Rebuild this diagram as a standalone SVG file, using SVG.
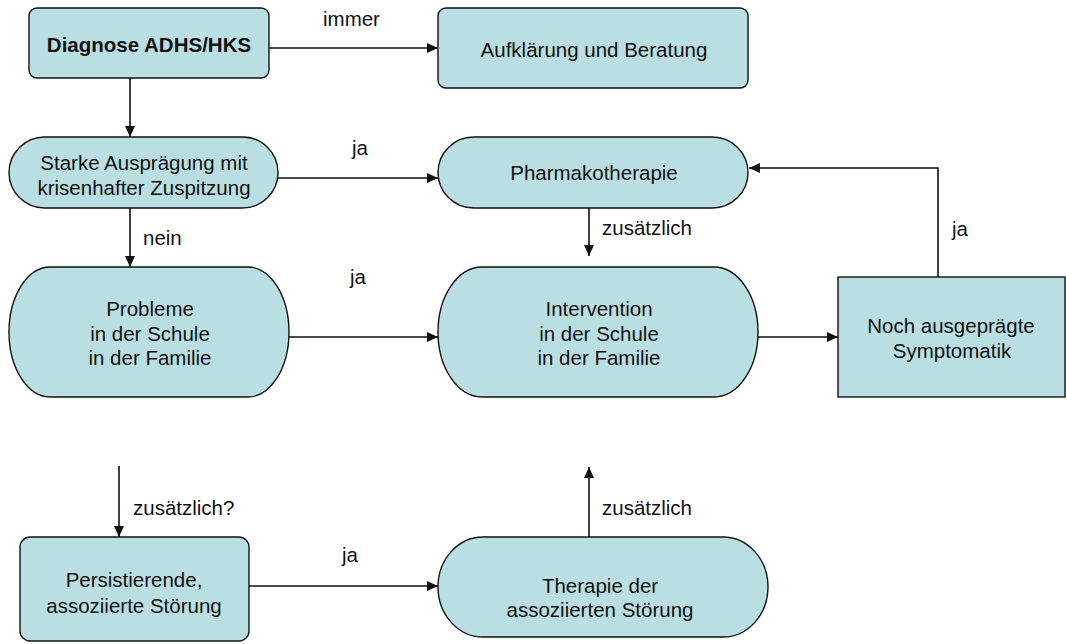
<svg xmlns="http://www.w3.org/2000/svg" width="1066" height="644" viewBox="0 0 1066 644">
<defs>
<style>
.n{fill:#BADFE2;stroke:#111;stroke-width:1.4}
.t{font-family:"Liberation Sans",Arial,sans-serif;font-size:20.5px;fill:#111;text-anchor:middle}
.b{font-weight:bold}
.l{font-family:"Liberation Sans",Arial,sans-serif;font-size:20.5px;fill:#111}
.c{fill:none;stroke:#111;stroke-width:1.6}
</style>
<marker id="ah" markerUnits="userSpaceOnUse" markerWidth="12" markerHeight="12" viewBox="0 0 12 12" refX="11" refY="6" orient="auto">
<path d="M0,1 L11,6 L0,11 Z" fill="#111"/>
</marker>
</defs>
<rect width="1066" height="644" fill="#fff"/>
<g id="connectors">
<path class="c" d="M269,48 H438" marker-end="url(#ah)"/>
<path class="c" d="M130,78 V137" marker-end="url(#ah)"/>
<path class="c" d="M278,178 H438" marker-end="url(#ah)"/>
<path class="c" d="M130,208 V267" marker-end="url(#ah)"/>
<path class="c" d="M289,337 H438" marker-end="url(#ah)"/>
<path class="c" d="M589,208 V256" marker-end="url(#ah)"/>
<path class="c" d="M758,337 H838" marker-end="url(#ah)"/>
<path class="c" d="M938,277 V168 H749" marker-end="url(#ah)"/>
<path class="c" d="M119,466 V537" marker-end="url(#ah)"/>
<path class="c" d="M249,586 H438" marker-end="url(#ah)"/>
<path class="c" d="M589,537 V467" marker-end="url(#ah)"/>
<text class="l" x="323" y="26">immer</text>
<text class="l" x="352" y="155">ja</text>
<text class="l" x="143" y="245">nein</text>
<text class="l" x="350" y="284">ja</text>
<text class="l" x="602" y="235">zusätzlich</text>
<text class="l" x="952" y="236">ja</text>
<text class="l" x="133" y="515">zusätzlich?</text>
<text class="l" x="342" y="562">ja</text>
<text class="l" x="602" y="515">zusätzlich</text>
</g>
<g id="diagnose">
<rect class="n" x="29" y="8" width="240" height="70" rx="8"/>
<text class="t b" x="149" y="52">Diagnose ADHS/HKS</text>
</g>
<g id="aufklaerung">
<rect class="n" x="438" y="8" width="310" height="80" rx="8"/>
<text class="t" x="594" y="57">Aufklärung und Beratung</text>
</g>
<g id="starke">
<rect class="n" x="9" y="137" width="269" height="71" rx="35.5" ry="35.5"/>
<text class="t" x="144" y="170">Starke Ausprägung mit</text>
<text class="t" x="144" y="195">krisenhafter Zuspitzung</text>
</g>
<g id="pharmako">
<rect class="n" x="438" y="137" width="310" height="71" rx="35.5" ry="35.5"/>
<text class="t" x="594" y="180">Pharmakotherapie</text>
</g>
<g id="probleme">
<rect class="n" x="9" y="267" width="280" height="130" rx="41" ry="65"/>
<text class="t" x="150" y="316">Probleme</text>
<text class="t" x="150" y="341">in der Schule</text>
<text class="t" x="150" y="365">in der Familie</text>
</g>
<g id="intervention">
<rect class="n" x="438" y="267" width="320" height="130" rx="44" ry="65"/>
<text class="t" x="599" y="316">Intervention</text>
<text class="t" x="599" y="341">in der Schule</text>
<text class="t" x="599" y="365">in der Familie</text>
</g>
<g id="symptomatik">
<rect class="n" x="838" y="277" width="227" height="120"/>
<text class="t" x="951" y="333">Noch ausgeprägte</text>
<text class="t" x="952" y="358">Symptomatik</text>
</g>
<g id="persistierende">
<rect class="n" x="20" y="537" width="229" height="104" rx="10"/>
<text class="t" x="134" y="587">Persistierende,</text>
<text class="t" x="134" y="613">assoziierte Störung</text>
</g>
<g id="therapie">
<rect class="n" x="438" y="537" width="330" height="100" rx="45" ry="50"/>
<text class="t" x="600" y="593">Therapie der</text>
<text class="t" x="600" y="617">assoziierten Störung</text>
</g>
</svg>
